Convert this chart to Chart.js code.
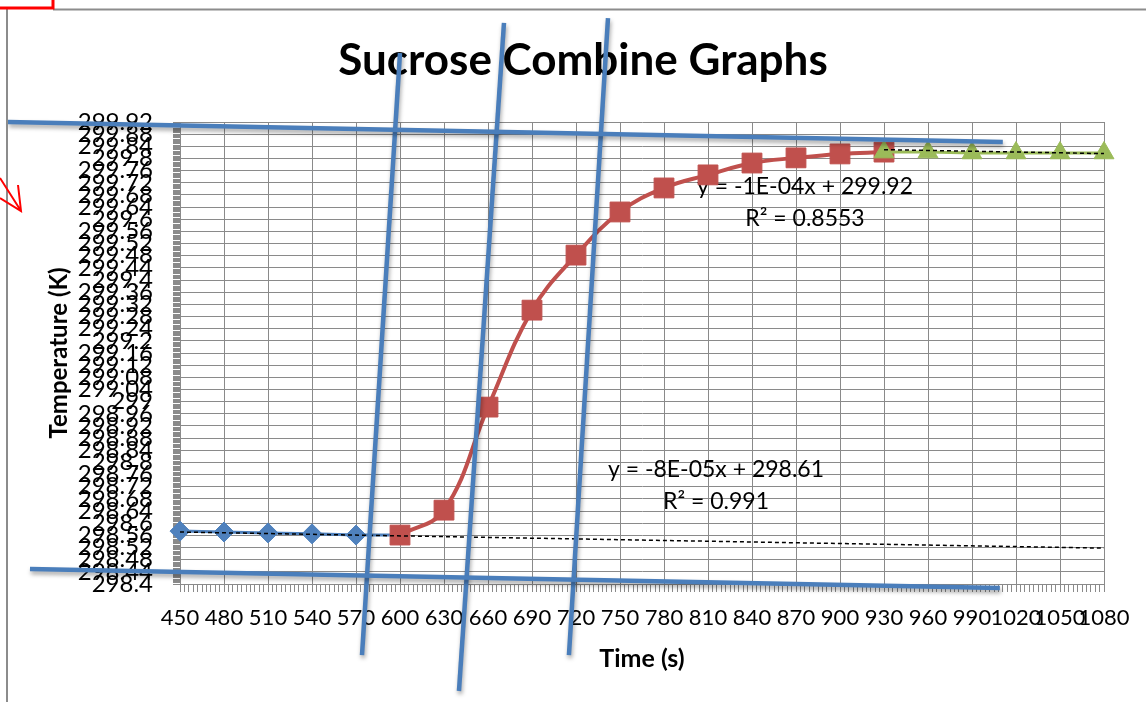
<!DOCTYPE html>
<html>
<head>
<meta charset="utf-8">
<title>Sucrose Combine Graphs</title>
<script src="https://cdn.jsdelivr.net/npm/chart.js@4.4.1/dist/chart.umd.min.js"></script>
<style>
  html, body { margin: 0; padding: 0; background: #fff; }
  #wrap { position: relative; width: 1146px; height: 702px; overflow: hidden; }
  #chart { position: absolute; left: 0; top: 0; }
  #marks { position: absolute; left: 0; top: 0; pointer-events: none; }
</style>
</head>
<body>
<div id="wrap">
  <canvas id="chart" width="1146" height="702"></canvas>
  <svg id="marks" width="1146" height="702">
    <line x1="53" y1="9.5" x2="1146" y2="9.5" stroke="#8c8c8c" stroke-width="2"/>
    <line x1="7" y1="9" x2="7" y2="702" stroke="#8c8c8c" stroke-width="2"/>
    <polyline points="0,8 53,8 53,0" fill="none" stroke="#ff0000" stroke-width="3"/>
    <path d="M0,178 L21,211 M18,185 L21,211 L0,198" fill="none" stroke="#ff0000" stroke-width="2"/>
  </svg>
</div>
<script>
// readings
const timeBlue = [450, 480, 510, 540, 570, 600];
const tempBlue = [298.574, 298.571, 298.568, 298.565, 298.561, 298.561];

const timeRed = [600, 630, 660, 690, 720, 750, 780, 810, 840, 870, 900, 930];
const tempRed = [298.561, 298.643, 298.982, 299.301, 299.482, 299.624, 299.703, 299.746, 299.785, 299.802, 299.815, 299.821];

const timeGreen = [930, 960, 990, 1020, 1050, 1080];
const tempGreen = [299.821, 299.821, 299.818, 299.818, 299.818, 299.818];

// excel trendlines (end points)
const trendBlueX = [450, 1080];
const trendBlueY = [298.571, 298.518];
const trendGreenX = [930, 1080];
const trendGreenY = [299.829, 299.816];

// the hand drawn blue pen strokes, in chart units
const penX = [[332.7, 1011], [347.7, 1009], [600, 574.1], [670.9, 640.2], [741.8, 715.2]];
const penY = [[299.92, 299.854], [298.449, 298.387], [300.147, 298.166], [300.246, 298.048], [300.262, 298.166]];

const xTickLabels = [450, 480, 510, 540, 570, 600, 630, 660, 690, 720, 750, 780, 810, 840, 870, 900, 930, 960, 990, 1020, 1050, 1080];
const yTickLabels = [298.4, 298.44, 298.48, 298.52, 298.56, 298.6, 298.64, 298.68, 298.72, 298.76, 298.8,
  298.84, 298.88, 298.92, 298.96, 299, 299.04, 299.08, 299.12, 299.16, 299.2, 299.24, 299.28, 299.32,
  299.36, 299.4, 299.44, 299.48, 299.52, 299.56, 299.6, 299.64, 299.68, 299.72, 299.76, 299.8, 299.84,
  299.88, 299.92];

const FONT = 'Lato, "Open Sans", sans-serif';
const GRID = '#8a8a8a';

const pts = (xs, ys) => xs.map((x, i) => ({ x: x, y: ys[i] }));
const isMajorX = v => xTickLabels.includes(v);
const isMajorY = v => yTickLabels.some(m => Math.abs(m - v) < 1e-6);

const penSets = penX.map((xs, i) => ({
    data: pts(xs, penY[i]),
    borderColor: '#4a7ebb',
    borderWidth: 4.5,
    pointRadius: 0,
    tension: 0,
    clip: false,
    order: 0,
    isPen: true
}));

const textPlugin = {
    id: 'texts',
    beforeDatasetsDraw(chart) {
        const ctx = chart.ctx;
        ctx.save();
        ctx.fillStyle = '#000';
        ctx.textAlign = 'center';
        ctx.textBaseline = 'middle';
        ctx.font = 'bold 44px ' + FONT;
        ctx.fillText('Sucrose Combine Graphs', 583, 61);
        ctx.font = '23px ' + FONT;
        ctx.fillText('y = -1E-04x + 299.92', 805, 187);
        ctx.fillText('R\u00B2 = 0.8553', 805, 219);
        ctx.fillText('y = -8E-05x + 298.61', 716, 470);
        ctx.fillText('R\u00B2 = 0.991', 716, 502);
        ctx.restore();
    }
};

const penShadow = {
    id: 'penShadow',
    beforeDatasetDraw(chart, args) {
        if (!chart.data.datasets[args.index].isPen) return;
        const ctx = chart.ctx;
        ctx.save();
        ctx.shadowColor = 'rgba(0,0,0,0.35)';
        ctx.shadowBlur = 4;
        ctx.shadowOffsetX = 1;
        ctx.shadowOffsetY = 3;
    },
    afterDatasetDraw(chart, args) {
        if (!chart.data.datasets[args.index].isPen) return;
        chart.ctx.restore();
    }
};

new Chart(document.getElementById('chart'), {
    type: 'line',
    data: {
        datasets: [
            ...penSets,
            {
                data: pts(trendBlueX, trendBlueY),
                borderColor: '#000', borderWidth: 1.5, borderDash: [4, 3],
                pointRadius: 0, clip: false, order: 1
            },
            {
                data: pts(trendGreenX, trendGreenY),
                borderColor: '#000', borderWidth: 1.5, borderDash: [4, 3],
                pointRadius: 0, clip: false, order: 1
            },
            {
                data: pts(timeGreen, tempGreen),
                borderColor: '#9BBB59', backgroundColor: '#9BBB59', borderWidth: 3,
                pointStyle: 'triangle', pointRadius: 11.5, pointBorderWidth: 1,
                clip: false, order: 2
            },
            {
                data: pts(timeRed, tempRed),
                borderColor: '#C0504D', backgroundColor: '#C0504D', borderWidth: 4,
                pointStyle: 'rect', pointRadius: 14, pointBorderWidth: 1,
                tension: 0.4, clip: false, order: 3
            },
            {
                data: pts(timeBlue, tempBlue),
                borderColor: '#4F81BD', backgroundColor: '#4F81BD', borderWidth: 3,
                pointStyle: 'rectRot', pointRadius: 10, pointBorderWidth: 1,
                clip: false, order: 4
            }
        ]
    },
    options: {
        responsive: false,
        animation: false,
        devicePixelRatio: 1,
        layout: { padding: { top: 122, right: 42, left: 0, bottom: 0 } },
        plugins: {
            legend: { display: false },
            tooltip: { enabled: false },
            title: { display: false }
        },
        scales: {
            x: {
                type: 'linear',
                min: 450, max: 1080,
                afterFit: s => { s.height = 118; },
                border: { color: GRID },
                grid: {
                    color: c => (c.tick && isMajorX(c.tick.value)) ? GRID : 'rgba(0,0,0,0)',
                    tickColor: GRID,
                    tickLength: 8
                },
                ticks: {
                    stepSize: 3,
                    autoSkip: false,
                    maxRotation: 0, minRotation: 0,
                    padding: 13,
                    color: '#000',
                    font: { family: FONT, size: 22 },
                    callback: v => isMajorX(v) ? String(v) : ''
                },
                title: {
                    display: true, text: 'Time (s)', color: '#000',
                    font: { family: FONT, size: 25, weight: 'bold' },
                    padding: { top: 0, bottom: 28 }
                }
            },
            y: {
                type: 'linear',
                min: 298.4, max: 299.92,
                afterFit: s => { s.width = 180; },
                border: { color: GRID },
                grid: {
                    color: c => (c.tick && isMajorY(c.tick.value)) ? GRID : 'rgba(0,0,0,0)',
                    tickColor: GRID,
                    tickLength: 7
                },
                ticks: {
                    stepSize: 0.004,
                    autoSkip: false,
                    padding: 20,
                    color: '#000',
                    font: { family: FONT, size: 24 },
                    callback: v => isMajorY(v) ? String(parseFloat(v.toFixed(2))) : ''
                },
                title: {
                    display: true, text: 'Temperature (K)', color: '#000',
                    font: { family: FONT, size: 24, weight: 'bold' },
                    padding: { top: 45, bottom: 0 }
                }
            }
        }
    },
    plugins: [textPlugin, penShadow]
});
</script>
</body>
</html>
